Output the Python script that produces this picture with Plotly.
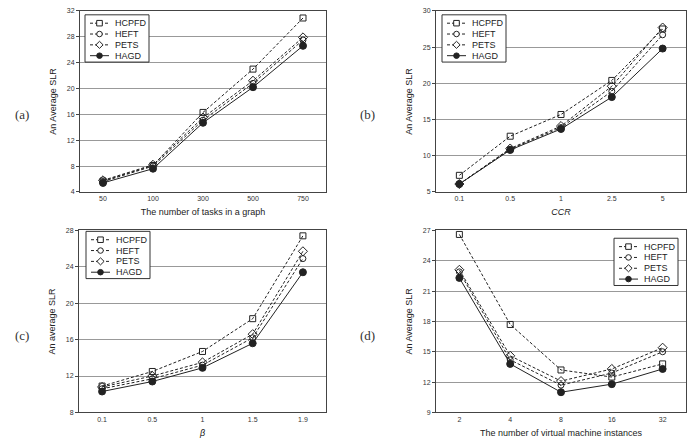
import plotly.graph_objects as go

series = ["HCPFD", "HEFT", "PETS", "HAGD"]

a_x = ["50", "100", "300", "500", "750"]
a_HCPFD = [5.7, 8.1, 16.3, 23.0, 30.9]
a_HEFT = [5.6, 8.0, 15.1, 20.8, 27.5]
a_PETS = [5.8, 8.2, 15.5, 21.2, 27.9]
a_HAGD = [5.4, 7.6, 14.7, 20.2, 26.6]

b_x = ["0.1", "0.5", "1", "2.5", "5"]
b_HCPFD = [7.3, 12.7, 15.7, 20.4, 27.5]
b_HEFT = [6.1, 10.9, 13.9, 18.9, 26.7]
b_PETS = [6.1, 11.0, 14.1, 19.6, 27.7]
b_HAGD = [6.1, 10.8, 13.7, 18.1, 24.8]

c_x = ["0.1", "0.5", "1", "1.5", "1.9"]
c_HCPFD = [10.9, 12.5, 14.7, 18.3, 27.4]
c_HEFT = [10.6, 11.7, 13.2, 16.2, 24.9]
c_PETS = [10.8, 12.0, 13.5, 16.6, 25.7]
c_HAGD = [10.3, 11.4, 12.9, 15.6, 23.4]

d_x = ["2", "4", "8", "16", "32"]
d_HCPFD = [26.6, 17.7, 13.2, 12.5, 13.8]
d_HEFT = [22.9, 14.2, 11.7, 12.9, 15.0]
d_PETS = [23.1, 14.6, 12.1, 13.3, 15.4]
d_HAGD = [22.3, 13.8, 11.0, 11.8, 13.3]

panels = [
    dict(x=a_x, data=[a_HCPFD, a_HEFT, a_PETS, a_HAGD], yr=[4, 32], dt=4,
         xt="The number of tasks in a graph", yt="An Average SLR", lab="(a)"),
    dict(x=b_x, data=[b_HCPFD, b_HEFT, b_PETS, b_HAGD], yr=[5, 30], dt=5,
         xt="<i>CCR</i>", yt="An Average SLR", lab="(b)"),
    dict(x=c_x, data=[c_HCPFD, c_HEFT, c_PETS, c_HAGD], yr=[8, 28], dt=4,
         xt="<i>β</i>", yt="An average SLR", lab="(c)"),
    dict(x=d_x, data=[d_HCPFD, d_HEFT, d_PETS, d_HAGD], yr=[9, 27], dt=3,
         xt="The number of virtual machine instances", yt="An Average SLR", lab="(d)"),
]

W, H = 692, 444
# plot boxes in pixels: left, right, top, bottom
boxes = [(80, 326, 7, 191), (436, 686, 7, 191), (79, 326, 230, 415), (436, 686, 230, 415)]
legend_pos = [(85, 11), (442, 11), (86, 231), (614, 238)]
label_pos = [(22, 112), (368, 112), (22, 337), (368, 337)]

symbols = ["square-open", "circle-open", "diamond-open", "circle"]
dashes = ["3px,2px", "3px,2px", "3px,2px", "solid"]
sizes = [6, 6, 7, 7]
col = "#222222"

fig = go.Figure()
shapes = []
annotations = []
layout = dict(width=W, height=H, margin=dict(l=0, r=0, t=0, b=0),
              plot_bgcolor="white", paper_bgcolor="white", showlegend=False,
              font=dict(family="Liberation Sans, Arial, sans-serif", color="#333"))


def px(x):
    return x / W


def py(y):
    return 1 - y / H


def draw_legend(x0, y0):
    w, h = 64, 48
    shapes.append(dict(type="rect", xref="paper", yref="paper",
                       x0=px(x0), x1=px(x0 + w), y0=py(y0 + h), y1=py(y0),
                       fillcolor="white", line=dict(color="#333", width=1), layer="above"))
    for j, name in enumerate(series):
        yy = y0 + 8.5 + 11 * j
        shapes.append(dict(type="line", xref="paper", yref="paper",
                           x0=px(x0 + 5), x1=px(x0 + 24), y0=py(yy), y1=py(yy),
                           line=dict(color=col, width=1, dash=dashes[j]), layer="above"))
        mx, r = x0 + 14.5, 2.8
        if j == 0:
            shapes.append(dict(type="rect", xref="paper", yref="paper",
                               x0=px(mx - r), x1=px(mx + r), y0=py(yy + r), y1=py(yy - r),
                               fillcolor="white", line=dict(color=col, width=1), layer="above"))
        elif j == 1:
            shapes.append(dict(type="circle", xref="paper", yref="paper",
                               x0=px(mx - r), x1=px(mx + r), y0=py(yy + r), y1=py(yy - r),
                               fillcolor="white", line=dict(color=col, width=1), layer="above"))
        elif j == 2:
            d = r + 0.8
            path = "M {} {} L {} {} L {} {} L {} {} Z".format(
                px(mx - d), py(yy), px(mx), py(yy - d), px(mx + d), py(yy), px(mx), py(yy + d))
            shapes.append(dict(type="path", xref="paper", yref="paper", path=path,
                               fillcolor="white", line=dict(color=col, width=1), layer="above"))
        else:
            shapes.append(dict(type="circle", xref="paper", yref="paper",
                               x0=px(mx - r), x1=px(mx + r), y0=py(yy + r), y1=py(yy - r),
                               fillcolor=col, line=dict(color=col, width=1), layer="above"))
        annotations.append(dict(text=name, x=px(x0 + 28), y=py(yy), xref="paper", yref="paper",
                                showarrow=False, xanchor="left", yanchor="middle",
                                font=dict(size=9, color="#222")))


for i, p in enumerate(panels):
    k = "" if i == 0 else str(i + 1)
    l, r, t, b = boxes[i]
    for j, name in enumerate(series):
        fig.add_trace(go.Scatter(
            x=p["x"], y=p["data"][j], name=name, mode="lines+markers",
            xaxis="x" + k, yaxis="y" + k,
            line=dict(color=col, width=1, dash=dashes[j]),
            marker=dict(symbol=symbols[j], size=sizes[j], color=col,
                        line=dict(color=col, width=1)),
        ))
    layout["xaxis" + k] = dict(
        domain=[l / W, r / W], anchor="y" + k, type="category",
        range=[-0.46, 4.46], showgrid=False, showline=True, mirror=True,
        linecolor="#444", linewidth=1, ticks="", tickfont=dict(size=7, color="#333"),
        title=dict(text=p["xt"], font=dict(size=9, color="#222"), standoff=7),
        fixedrange=True)
    layout["yaxis" + k] = dict(
        domain=[1 - b / H, 1 - t / H], anchor="x" + k, range=p["yr"], dtick=p["dt"],
        showgrid=True, gridcolor="#999", gridwidth=1, showline=True, mirror=True,
        linecolor="#444", linewidth=1, ticks="outside", ticklen=3, tickcolor="#444",
        tickfont=dict(size=7, color="#333"), zeroline=False,
        title=dict(text=p["yt"], font=dict(size=9, color="#222"), standoff=8),
        fixedrange=True)
    draw_legend(*legend_pos[i])
    lpx, lpy = label_pos[i]
    annotations.append(dict(
        text=p["lab"], x=px(lpx), y=py(lpy), xref="paper", yref="paper",
        showarrow=False, xanchor="center", yanchor="middle",
        font=dict(family="Liberation Serif, DejaVu Serif, serif", size=13, color="#333")))

layout["shapes"] = shapes
layout["annotations"] = annotations
fig.update_layout(**layout)
fig.write_html("out.html")
